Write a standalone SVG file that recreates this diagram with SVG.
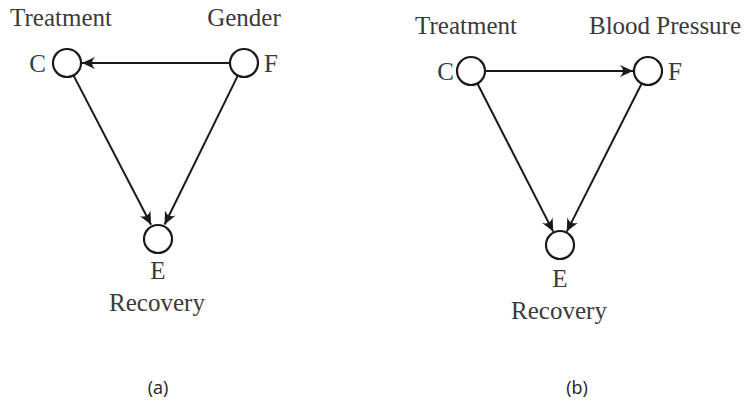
<svg xmlns="http://www.w3.org/2000/svg" width="746" height="402" viewBox="0 0 746 402">
<style>
.n{fill:none;stroke:#1a1a1a;stroke-width:2.2}
.e{stroke:#1a1a1a;stroke-width:2;fill:none}
.t{font-family:"Liberation Serif","DejaVu Serif",serif;font-size:25px;fill:#3a3a3a}
.c{font-family:"Open Sans","Noto Sans",sans-serif;font-size:18px;fill:#222}
</style>
<defs>
<marker id="ah" viewBox="-14 -7 16 14" markerWidth="16" markerHeight="14" refX="0" refY="0" orient="auto" markerUnits="userSpaceOnUse">
<path d="M0,0 L-13,-6 Q-7,0 -13,6 Z" fill="#1a1a1a"/>
</marker>
</defs>
<g id="edges">
<line class="e" x1="230" y1="63" x2="82" y2="63" marker-end="url(#ah)"/>
<line class="e" x1="73.5" y1="75.4" x2="151.1" y2="224.7" marker-end="url(#ah)"/>
<line class="e" x1="237.8" y1="75.6" x2="164.6" y2="224.5" marker-end="url(#ah)"/>
<line class="e" x1="485" y1="71" x2="633" y2="71" marker-end="url(#ah)"/>
<line class="e" x1="477.4" y1="83.5" x2="553.2" y2="231.6" marker-end="url(#ah)"/>
<line class="e" x1="641.7" y1="83.5" x2="566.8" y2="231.6" marker-end="url(#ah)"/>
</g>
<g id="a-C"><circle class="n" cx="67" cy="63" r="14"/><text class="t" x="46" y="72" text-anchor="end">C</text><text class="t" x="61" y="26" text-anchor="middle">Treatment</text></g>
<g id="a-F"><circle class="n" cx="244" cy="63" r="14"/><text class="t" x="264" y="72">F</text><text class="t" x="244" y="26" text-anchor="middle">Gender</text></g>
<g id="a-E"><circle class="n" cx="158" cy="239" r="14"/><text class="t" x="158" y="279" text-anchor="middle">E</text><text class="t" x="157" y="311" text-anchor="middle">Recovery</text></g>
<g id="b-C"><circle class="n" cx="471" cy="71" r="14"/><text class="t" x="454" y="80" text-anchor="end">C</text><text class="t" x="466" y="34" text-anchor="middle">Treatment</text></g>
<g id="b-F"><circle class="n" cx="648" cy="71" r="14"/><text class="t" x="668" y="80">F</text><text class="t" x="665" y="34" text-anchor="middle">Blood Pressure</text></g>
<g id="b-E"><circle class="n" cx="560" cy="245" r="14"/><text class="t" x="560" y="287" text-anchor="middle">E</text><text class="t" x="559" y="319" text-anchor="middle">Recovery</text></g>
<text class="c" x="158" y="394" text-anchor="middle">(a)</text>
<text class="c" x="577" y="394" text-anchor="middle">(b)</text>
</svg>
